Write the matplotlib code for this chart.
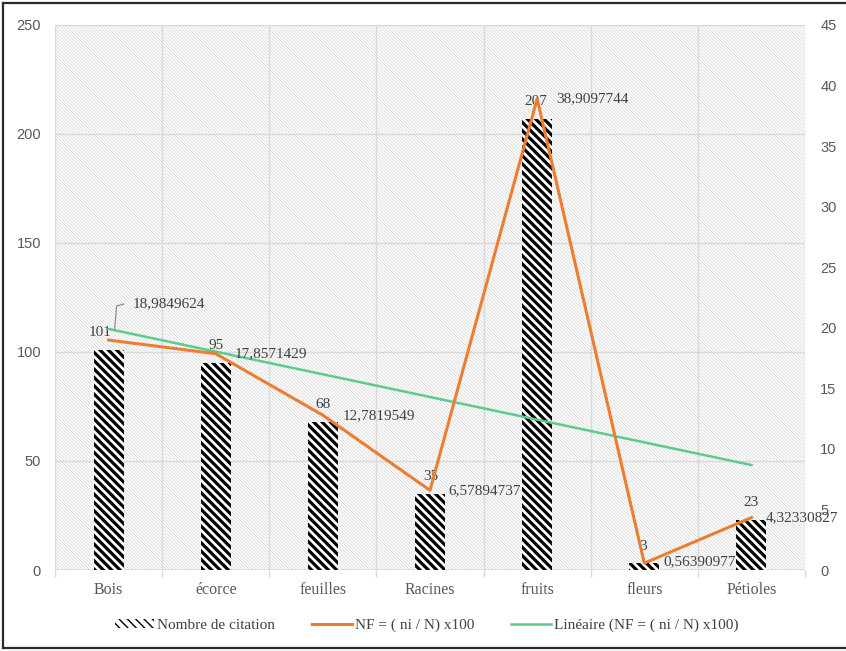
import matplotlib
matplotlib.use("Agg")
import matplotlib.pyplot as plt
import matplotlib.transforms as mtransforms
from matplotlib.patches import Rectangle, Patch
from matplotlib.lines import Line2D
import numpy as np

# ---- data ----
categories = ["Bois", "écorce", "feuilles", "Racines", "fruits", "fleurs", "Pétioles"]
citations = [101, 95, 68, 35, 207, 3, 23]
nf_values = [18.9849624, 17.8571429, 12.7819549, 6.57894737, 38.9097744, 0.56390977, 4.32330827]
nf_labels = ["18,9849624", "17,8571429", "12,7819549", "6,57894737",
             "38,9097744", "0,56390977", "4,32330827"]
left_ticks = [0, 50, 100, 150, 200, 250]
right_ticks = [0, 5, 10, 15, 20, 25, 30, 35, 40, 45]

ORANGE = "#ED7D31"
GREEN = "#5CCB8C"
GRID = "#D9D9D9"
TXT = "#404040"
TICK = "#595959"
SERIF = "Liberation Serif"
SANS = "Liberation Sans"

BAR_HATCH = "\\" * 4
BG_HATCH = "\\" * 10

fig = plt.figure(figsize=(8.46, 6.51), dpi=100)
ax = fig.add_axes([55 / 846, 1 - 570 / 651, 750 / 846, 545 / 651])
ax2 = ax.twinx()

x = np.arange(len(categories))

# hatched plot-area background
ax.patch.set_visible(False)
with plt.rc_context({"hatch.linewidth": 0.6}):
    bg = Rectangle((0, 0), 1, 1, transform=ax.transAxes, facecolor="white",
                   edgecolor="#DADADA", linewidth=0, hatch=BG_HATCH, zorder=-10)
    ax.add_patch(bg)

# grid: horizontal at value ticks, vertical at category boundaries
for v in left_ticks:
    ax.axhline(v, color=GRID, lw=1.0, zorder=-5)
for b in np.arange(-0.5, len(categories), 1.0):
    ax.axvline(b, color=GRID, lw=1.0, zorder=-5)

# bars
with plt.rc_context({"hatch.linewidth": 2.3}):
    bars = ax.bar(x, citations, width=0.28, facecolor="white", edgecolor="black",
                  linewidth=0, hatch=BAR_HATCH, zorder=2)

ax.set_xlim(-0.5, len(categories) - 0.5)
ax.set_ylim(0, 250)
ax2.set_ylim(0, 45)

# NF line and its linear trend
ax2.plot(x, nf_values, color=ORANGE, lw=2.2, zorder=4, solid_joinstyle="round")
coef = np.polyfit(x, nf_values, 1)
ax2.plot(x, np.polyval(coef, x), color=GREEN, lw=1.8, zorder=3)

# ticks and spines
for a in (ax, ax2):
    for s in a.spines.values():
        s.set_visible(False)
ax.set_yticks(left_ticks)
ax2.set_yticks(right_ticks)
ax.tick_params(axis="y", length=0, pad=10, labelcolor=TICK, labelsize=10.5)
ax2.tick_params(axis="y", length=0, pad=11, labelcolor=TICK, labelsize=10.5)
for lab in ax.get_yticklabels() + ax2.get_yticklabels():
    lab.set_fontfamily(SANS)
ax.set_xticks(x)
ax.set_xticklabels(categories, fontfamily=SERIF, fontsize=11.5, color=TICK)
ax.tick_params(axis="x", length=0, pad=9)
ax.set_xticks(np.arange(-0.5, len(categories), 1.0), minor=True)
ax.tick_params(axis="x", which="minor", length=5, color=GRID, width=1)
ax.axhline(0, color=GRID, lw=1.2, zorder=1)

# bar value labels
bar_dx = [-8, 0, 0, 1, -1, -1, 0]
for i, v in enumerate(citations):
    ax.annotate(str(v), (x[i], v), xytext=(bar_dx[i], 17), textcoords="offset pixels",
                ha="center", va="center", fontfamily=SERIF, fontsize=11, color=TXT, zorder=6)

# NF value labels
nf_off = [(24, 36), (19, 0), (20, 0), (18, 0), (19, 0), (19, 1), (14, 0)]
for i, v in enumerate(nf_values):
    dx, dy = nf_off[i]
    ax2.annotate(nf_labels[i], (x[i], v), xytext=(dx, dy), textcoords="offset pixels",
                 ha="left", va="center", fontfamily=SERIF, fontsize=11, color=TXT, zorder=6)

# leader line for the first NF label
lead = mtransforms.ScaledTranslation(x[0], nf_values[0], ax2.transData)
ax2.add_line(Line2D([6, 8, 15], [10, 34, 36], color="#8C8C8C", lw=0.9,
                    transform=mtransforms.IdentityTransform() + lead, zorder=5))

# legend
with plt.rc_context({"hatch.linewidth": 2.3}):
    h_bar = Patch(facecolor="white", edgecolor="black", linewidth=0, hatch=BAR_HATCH)
h_nf = Line2D([], [], color=ORANGE, lw=2.2)
h_tr = Line2D([], [], color=GREEN, lw=1.8)
leg = fig.legend([h_bar, h_nf, h_tr],
                 ["Nombre de citation", "NF = ( ni / N) x100", "Linéaire (NF = ( ni / N) x100)"],
                 loc="center", bbox_to_anchor=(0.504, 1 - 625 / 651), ncol=3, frameon=False,
                 handlelength=2.6, handleheight=0.5, handletextpad=0.2, columnspacing=2.4,
                 prop={"family": SERIF, "size": 11})
for t in leg.get_texts():
    t.set_color(TXT)

# outer frame
for xs, ys in [([3, 3], [3, 648]), ([3, 846], [3, 3]), ([3, 846], [648, 648])]:
    fig.add_artist(Line2D(xs, [651 - y for y in ys], color="#2B2B2B", lw=1.6,
                          transform=mtransforms.IdentityTransform()))

fig.savefig("out.png", dpi=100)
